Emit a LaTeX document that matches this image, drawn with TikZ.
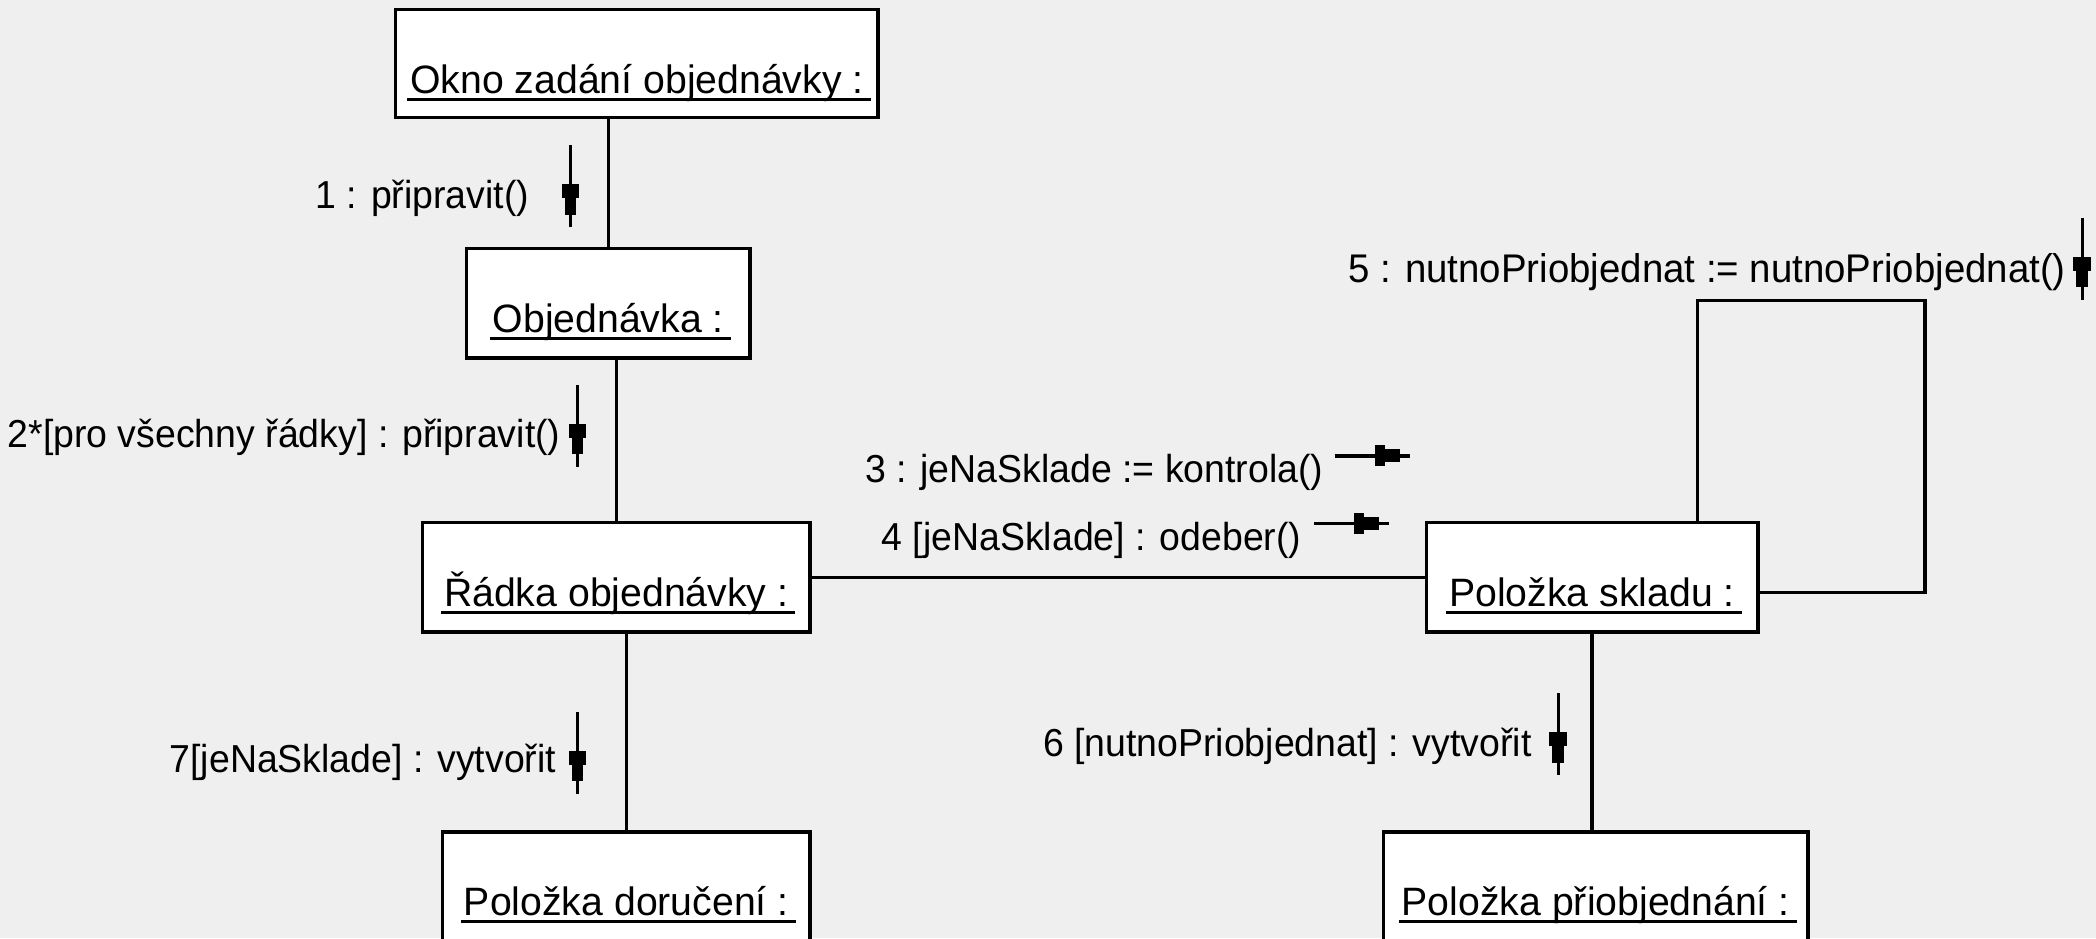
\documentclass[tikz,border=0pt]{standalone}
\usepackage{fontspec}
\setmainfont[FakeStretch=0.96]{Liberation Sans}
\newfontfamily\boxfont[FakeStretch=0.99]{Liberation Sans}
\usetikzlibrary{calc}
\definecolor{bgc}{HTML}{EFEFEF}
\newcommand\msgv[1]{%
  \draw[msgline] (#1) -- ++(0,61.5);
  \fill ($(#1)+(-6.6,29)$) rectangle ++(13.2,10.5);
  \fill ($(#1)+(-4.3,39.5)$) rectangle ++(8.6,12.5);}
\newcommand\msgh[1]{%
  \draw[msgline, line width=1.8pt] (#1) -- ++(56,0);
  \fill ($(#1)+(30,-7.85)$) rectangle ++(7.5,15.7);
  \fill ($(#1)+(37.5,-4.75)$) rectangle ++(11.2,9.5);}
\begin{document}
\begin{tikzpicture}[x=0.6684pt,y=-0.6684pt,
  objbox/.style={draw, line width=1.8pt, fill=white, inner sep=0pt, outer sep=0pt},
  objtext/.style={anchor=base, inner sep=0pt, font=\boxfont\fontsize{19.8}{23}\selectfont},
  msgtext/.style={anchor=base, inner sep=0pt, font=\fontsize{19.5}{23}\selectfont},
  link/.style={line width=1.6pt},
  uline/.style={line width=1.4pt},
  msgline/.style={line width=1.5pt}]
\useasboundingbox (0,0) rectangle (1568,702);
\fill[bgc] (0,0) rectangle (1568,702);
\clip (0,0) rectangle (1568,702);

\coordinate (loop) at (1440,225);

% object boxes
\node[objbox, minimum width=241.29pt, minimum height=54.14pt] (okno) at (476.5,47.5) {};
\node[objbox, minimum width=141.70pt, minimum height=54.81pt] (objed) at (455,227) {};
\node[objbox, minimum width=193.84pt, minimum height=54.81pt] (radka) at (461,432) {};
\node[objbox, minimum width=165.76pt, minimum height=54.81pt] (sklad) at (1191,432) {};
\node[objbox, minimum width=183.81pt, minimum height=54.81pt] (doruc) at (468.5,663.6) {};
\node[objbox, minimum width=212.29pt, minimum height=54.81pt] (priob) at (1193.8,663.6) {};

% links
\draw[link] (objed.north |- okno.south) -- (objed.north);
\draw[link] (radka.north |- objed.south) -- (radka.north);
\draw[link] (doruc.north |- radka.south) -- (doruc.north);
\draw[link] (radka.east) -- (radka.east -| sklad.west);
\draw[link] (sklad.south) -- (sklad.south |- priob.north);
\draw[link] ($(sklad.north)+(79,0)$) |- (loop) |- ($(sklad.east)+(0,11.5)$);

% object names
\node[objtext] (oknot) at ($(okno.south)+(0,-18)$) {Okno zadání objednávky :};
\node[objtext] (objedt) at ($(objed.south)+(0,-19)$) {Objednávka :};
\node[objtext] (radkat) at ($(radka.south)+(0,-19)$) {Řádka objednávky :};
\node[objtext] (skladt) at ($(sklad.south)+(0,-19)$) {Položka skladu :};
\node[objtext] (doruct) at ($(doruc.south)+(0,-20)$) {Položka doručení :};
\node[objtext] (priobt) at ($(priob.south)+(0,-20)$) {Položka přiobjednání :};
\foreach \t in {oknot,objedt,radkat,skladt,doruct,priobt}{
  \draw[uline] ($(\t.base west)+(-2,4.5)$) -- ($(\t.base east)+(5,4.5)$);
}

% messages
\node[msgtext] (m1) at (316,156) {1 : připravit()};
\node[msgtext] (m2) at (212.5,335) {2*[pro všechny řádky] : připravit()};
\node[msgtext] (m3) at (818.5,361) {3 : jeNaSklade := kontrola()};
\node[msgtext] (m4) at (816.5,411.5) {4 [jeNaSklade] : odeber()};
\node[msgtext, font=\fontsize{20}{23}\selectfont] (m5) at (1277,211) {5 : nutnoPriobjednat := nutnoPriobjednat()};
\node[msgtext] (m6) at (963,566) {6 [nutnoPriobjednat] : vytvořit};
\node[msgtext] (m7) at (271.5,578) {7[jeNaSklade] : vytvořit};

\coordinate (a1) at (426.8,108.5);
\coordinate (a2) at (432,288);
\coordinate (a3) at (998.5,341);
\coordinate (a4) at (983,391.5);
\coordinate (a5) at (1557.6,163);
\coordinate (a6) at (1165.6,518.6);
\coordinate (a7) at (432,532.5);
\msgv{a1}
\msgv{a2}
\msgh{a3}
\msgh{a4}
\msgv{a5}
\msgv{a6}
\msgv{a7}
\end{tikzpicture}
\end{document}
